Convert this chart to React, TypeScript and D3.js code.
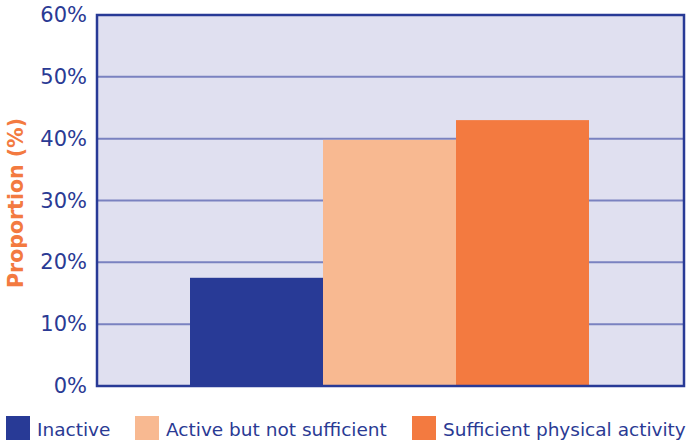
import React from "react";
import * as d3 from "d3";

const categories = ["Inactive", "Active but not sufficient", "Sufficient physical activity"];
const values = [17.5, 39.8, 43.0];
const colors = ["#283a96", "#f8b991", "#f37a40"];
const yTicks = [0, 10, 20, 30, 40, 50, 60];
const yTitle = "Proportion (%)";

const W = 688;
const H = 441;
const M = { left: 97, right: 3, top: 15, bottom: 55 };
const FONT = "'DejaVu Sans', Verdana, sans-serif";

export default function App() {
  const x = d3.scaleBand().domain(categories).range([190, 589]).paddingInner(0).paddingOuter(0);
  const y = d3.scaleLinear().domain([0, 60]).range([H - M.bottom, M.top]);
  const plotW = W - M.left - M.right;

  const legendX = [6, 135, 412];

  return (
    <svg width={W} height={H} style={{ position: "absolute", left: 0, top: 0 }}>
      <rect x={M.left} y={M.top} width={plotW} height={y(0) - M.top} fill="#e0e0f0" />
      {yTicks.slice(1, -1).map((t) => (
        <line key={t} x1={M.left} x2={W - M.right} y1={y(t)} y2={y(t)} stroke="#7a82c0" strokeWidth={2} />
      ))}
      {categories.map((c, i) => (
        <rect key={c} x={x(c)} y={y(values[i])} width={x.bandwidth()} height={y(0) - y(values[i])} fill={colors[i]} />
      ))}
      <rect x={M.left} y={M.top} width={plotW - 1} height={y(0) - M.top} fill="none" stroke="#283a96" strokeWidth={2.5} />
      {yTicks.map((t) => (
        <text key={t} x={87} y={y(t) + 7} textAnchor="end" fontFamily={FONT} fontSize={21} fill="#2a3a94">
          {t}%
        </text>
      ))}
      <text
        transform={`translate(23,203) rotate(-90)`}
        textAnchor="middle"
        fontFamily={FONT}
        fontSize={20.5}
        fontWeight="bold"
        fill="#f37a40"
      >
        {yTitle}
      </text>
      {categories.map((c, i) => (
        <g key={c}>
          <rect x={legendX[i]} y={416} width={24} height={24} fill={colors[i]} />
          <text x={legendX[i] + 31} y={436} fontFamily={FONT} fontSize={18.5} fill="#2a3a94">
            {c}
          </text>
        </g>
      ))}
    </svg>
  );
}
